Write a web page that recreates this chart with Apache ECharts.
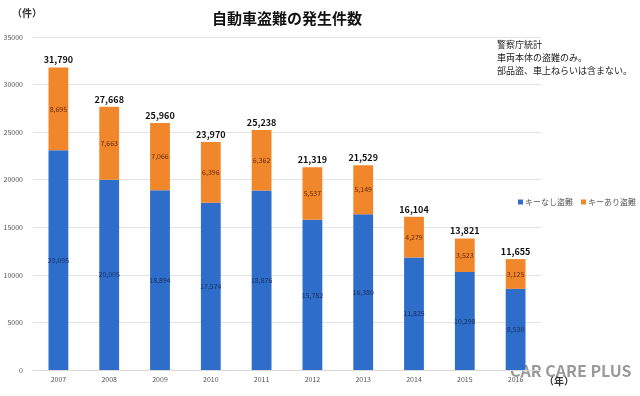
<!DOCTYPE html>
<html>
<head>
<meta charset="utf-8">
<script src="https://cdn.jsdelivr.net/npm/echarts@6/dist/echarts.min.js"></script>
<style>
  html, body { margin: 0; padding: 0; background: #fff; }
  #chart { width: 640px; height: 396px; }
</style>
</head>
<body>
<div id="chart"></div>
<script>
// 年
const years = ['2007', '2008', '2009', '2010', '2011', '2012', '2013', '2014', '2015', '2016']
// キーなし盗難
const keyless = [23095, 20005, 18894, 17574, 18876, 15782, 16380, 11825, 10298, 8530]
// キーあり盗難
const withKey = [8695, 7663, 7066, 6396, 6362, 5537, 5149, 4279, 3523, 3125]
// 合計
const totals = [31790, 27668, 25960, 23970, 25238, 21319, 21529, 16104, 13821, 11655]
const notes = ['警察庁統計', '車両本体の盗難のみ。', '部品盗、車上ねらいは含まない。']

const fmt = (v) => v.toLocaleString('en-US')
const font = "'Noto Sans CJK JP', 'Noto Sans', sans-serif"

const chart = echarts.init(document.getElementById('chart'))
const option = {
  animation: false,
  textStyle: { fontFamily: font },
  title: {
    text: '自動車盗難の発生件数',
    left: 282,
    textAlign: 'center',
    top: 6,
    textStyle: { fontSize: 15, fontWeight: 'bold', color: '#111', fontFamily: font }
  },
  legend: {
    data: ['キーなし盗難', 'キーあり盗難'],
    orient: 'horizontal',
    left: 518,
    top: 198,
    width: 122,
    padding: 0,
    itemWidth: 5,
    itemHeight: 5,
    itemGap: 8,
    icon: 'rect',
    textStyle: { fontSize: 8, color: '#555', padding: [0, 0, 0, -3] }
  },
  graphic: [
    { type: 'text', left: 12, top: 8, style: { text: '（件）', fill: '#333', font: 'bold 10px ' + font } },
    { type: 'text', left: 497, top: 38, style: { text: notes.join('\n'), lineHeight: 13, fill: '#222', font: '9px ' + font } },
    { type: 'text', left: 544, top: 376, style: { text: '（年）', fill: '#333', font: 'bold 10px ' + font } },
    { type: 'text', left: 510, top: 363, style: { text: 'CAR CARE PLUS', fill: 'rgba(120,120,120,0.75)', font: 'bold 16px ' + font } }
  ],
  grid: { left: 33, right: 99, top: 37, bottom: 26 },
  xAxis: {
    type: 'category',
    data: years,
    axisLine: { lineStyle: { color: '#d9d9d9' } },
    axisTick: { show: false },
    axisLabel: { fontSize: 7, color: '#555', margin: 6 }
  },
  yAxis: {
    type: 'value',
    min: 0,
    max: 35000,
    interval: 5000,
    axisLine: { show: false },
    axisTick: { show: false },
    splitLine: { lineStyle: { color: '#e3e3e3' } },
    axisLabel: { fontSize: 7, color: '#555', margin: 10, formatter: (v) => String(v) }
  },
  series: [
    {
      name: 'キーなし盗難',
      type: 'bar',
      stack: 'total',
      barWidth: '39%',
      data: keyless,
      itemStyle: { color: '#2e6dca' },
      label: { show: true, position: 'inside', fontSize: 7, color: '#1b2f5a', formatter: (p) => fmt(p.value) }
    },
    {
      name: 'キーあり盗難',
      type: 'bar',
      stack: 'total',
      data: withKey,
      itemStyle: { color: '#f0872b' },
      label: { show: true, position: 'inside', fontSize: 7, color: '#6b2a10', formatter: (p) => fmt(p.value) }
    },
    {
      name: '合計',
      type: 'bar',
      stack: 'total',
      data: totals.map(() => 0),
      itemStyle: { color: 'transparent' },
      label: {
        show: true,
        position: 'top',
        distance: 3,
        fontSize: 9,
        fontWeight: 'bold',
        color: '#111',
        formatter: (p) => fmt(totals[p.dataIndex])
      }
    }
  ]
}
chart.setOption(option)
</script>
</body>
</html>
